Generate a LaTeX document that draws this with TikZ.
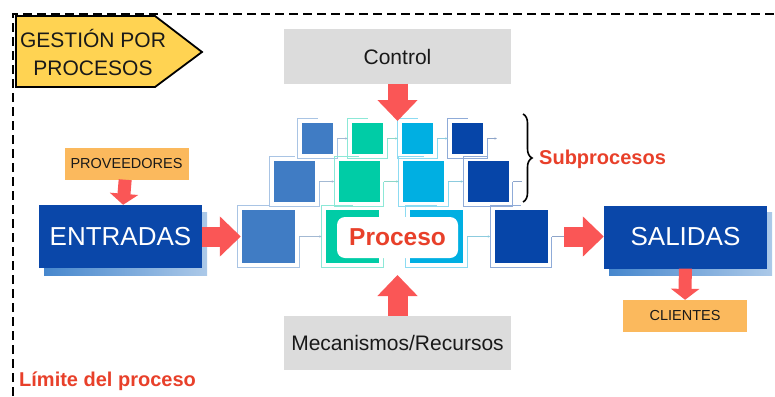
\documentclass[tikz,border=0pt]{standalone}
\usepackage{fontspec}
\setmainfont{Liberation Sans}
\usetikzlibrary{arrows.meta,shadows,decorations.pathreplacing}

\definecolor{darkblue}{RGB}{10,71,169}
\definecolor{shadeblue}{RGB}{70,135,205}
\definecolor{boxgray}{RGB}{220,220,220}
\definecolor{tagorange}{RGB}{251,185,93}
\definecolor{arrowred}{RGB}{250,86,86}
\definecolor{textred}{RGB}{232,64,42}
\definecolor{titleyellow}{RGB}{255,211,82}
\definecolor{colA}{RGB}{64,124,196}
\definecolor{colB}{RGB}{0,204,166}
\definecolor{colC}{RGB}{0,175,226}
\definecolor{colD}{RGB}{6,69,168}

\begin{document}
\begin{tikzpicture}[x=1pt, y=-1pt,
    every node/.style={inner sep=0pt, text=black!90},
    bluebox/.style={fill=darkblue, text=white, minimum width=163pt, minimum height=63pt,
      font=\fontsize{26}{30}\selectfont,
      general shadow={shadow xshift=5pt, shadow yshift=-7pt,
        left color=shadeblue, right color=shadeblue!45!white}},
    graybox/.style={fill=boxgray, minimum width=227pt, minimum height=54pt,
      font=\fontsize{21}{24}\selectfont},
    tagbox/.style={fill=tagorange, minimum width=124pt, minimum height=32pt,
      font=\fontsize{14.5}{16}\selectfont},
    subbox/.style={minimum width=#1, minimum height=#1},
    frameline/.style={draw=#1!45!white, line width=0.9pt},
    redarrow/.style={draw=arrowred, line width=20pt, -{Triangle[length=21pt, width=39pt]}},
    tagarrow/.style={draw=arrowred, line width=13pt, -{Triangle[length=11pt, width=28pt]}},
    redlabel/.style={text=textred, font=\bfseries\fontsize{20}{24}\selectfont}]

    \useasboundingbox (0,0) rectangle (775,396);

    % process limit
    \draw[line width=2.6pt, dash pattern=on 9pt off 5pt] (13,396) -- (13,14) -- (775,14);
    \node[redlabel, anchor=west] (limit) at (19,381) {Límite del proceso};

    % title tag
    \draw[fill=titleyellow, line width=1.8pt, line join=miter]
        (16,16) -- (155,16) -- (202,52) -- (155,87) -- (16,87) -- cycle;
    \node[align=center, font=\fontsize{21}{28}\selectfont] (title) at (93,52) {GESTIÓN POR\\PROCESOS};

    % control and resources
    \node[graybox] (ctrl) at (397.5,56.5) {Control};
    \node[graybox] (mec) at (397.5,343) {Mecanismos/Recursos};
    \coordinate (ctrlin) at (397.5,121);
    \coordinate (mecin) at (397.5,275);

    % inputs and outputs
    \node[tagbox] (prov) at (126.5,163.5) {PROVEEDORES};
    \node[bluebox] (entr) at (120.5,236.5) {ENTRADAS};
    \node[bluebox] (sal) at (685.5,237) {SALIDAS};
    \node[tagbox] (cli) at (685,316) {CLIENTES};

    % subprocess blocks, three rows
    \node[subbox=31pt, fill=colA] (s11) at (317.5,138.5) {};
    \node[subbox=31pt, fill=colB] (s12) at (367.5,138.5) {};
    \node[subbox=31pt, fill=colC] (s13) at (417.5,138.5) {};
    \node[subbox=31pt, fill=colD] (s14) at (467.5,138.5) {};
    \node[subbox=41pt, fill=colA] (s21) at (294.5,181.5) {};
    \node[subbox=41pt, fill=colB] (s22) at (359,181.5) {};
    \node[subbox=41pt, fill=colC] (s23) at (423.5,181.5) {};
    \node[subbox=41pt, fill=colD] (s24) at (488,181.5) {};
    \node[subbox=53pt, fill=colA] (s31) at (268.5,236.5) {};
    \node[subbox=53pt, fill=colB] (s32) at (352.5,236.5) {};
    \node[subbox=53pt, fill=colC] (s33) at (436.5,236.5) {};
    \node[subbox=53pt, fill=colD] (s34) at (521,236.5) {};
    \coordinate (e14) at (497,138.5);
    \coordinate (e24) at (522,181.5);
    \coordinate (e34) at (564,236.5);

    \foreach \s/\c in {s11/colA, s12/colB, s13/colC, s14/colD, s21/colA, s22/colB,
        s23/colC, s24/colD, s31/colA, s32/colB, s33/colC, s34/colD}
      \draw[frameline=\c] ([yshift=4pt]\s.north) -- ([shift={(-4pt,4pt)}]\s.north west)
        -- ([shift={(-4pt,-4pt)}]\s.south west) -- ([shift={(4pt,-4pt)}]\s.south east)
        -- ([xshift=4pt]\s.east);

    \foreach \a/\b/\c in {s11/s12/colA, s12/s13/colB, s13/s14/colC, s21/s22/colA,
        s22/s23/colB, s23/s24/colC, s31/s32/colA, s32/s33/colB, s33/s34/colC}
      \draw[frameline=\c!80!black, -{Latex[length=2.5pt, width=2.5pt]}]
        ([xshift=4pt]\a.east) -- ([xshift=-4pt]\b.west);
    \draw[frameline=colD!80!black, -{Latex[length=2.5pt, width=2.5pt]}] ([xshift=4pt]s14.east) -- (e14);
    \draw[frameline=colD!80!black] ([xshift=4pt]s24.east) -- (e24);
    \draw[frameline=colD!80!black] ([xshift=4pt]s34.east) -- (e34);

    \node[fill=white, rounded corners=8pt, minimum width=121pt, minimum height=41pt,
        text=textred, font=\bfseries\fontsize{24.5}{28}\selectfont] (proc) at (397.5,237.5) {Proceso};

    % subprocess brace
    \coordinate (bracetop) at (523,114);
    \coordinate (bracebot) at (523,202);
    \draw[line width=1.6pt, decorate, decoration={brace, amplitude=9pt}] (bracetop) -- (bracebot);
    \node[redlabel, anchor=west] (sub) at (539,159) {Subprocesos};

    % flow arrows
    \draw[redarrow] (ctrl) -- (ctrlin);
    \draw[redarrow] (mec) -- (mecin);
    \draw[redarrow] (entr.east) -- ([xshift=-1pt]s31.west);
    \draw[redarrow] (e34) -- (e34 -| sal.west);
    \draw[tagarrow] (prov) -- (entr);
    \draw[tagarrow] (sal) -- (cli);
\end{tikzpicture}
\end{document}
